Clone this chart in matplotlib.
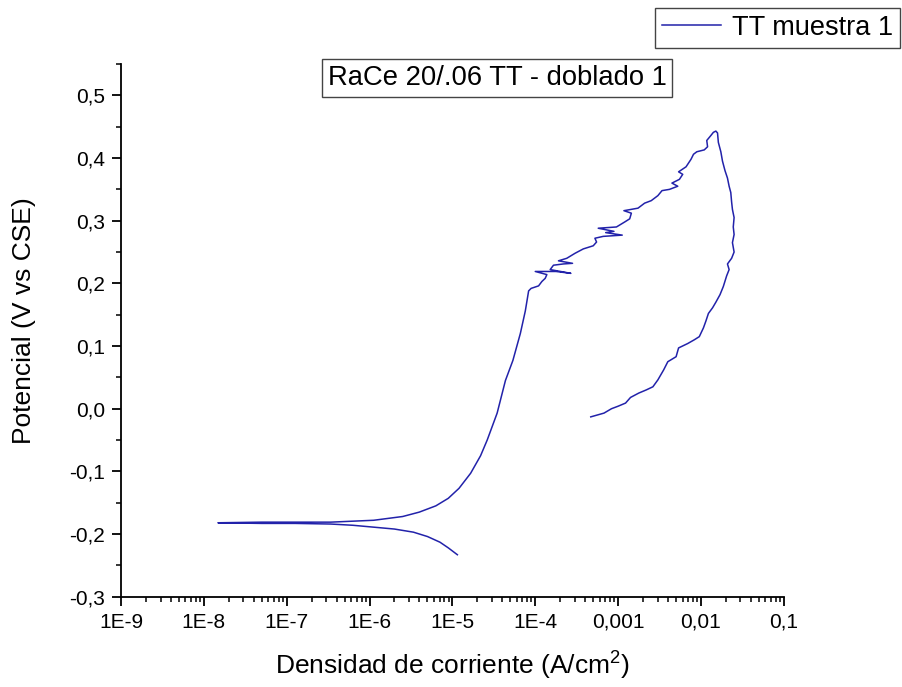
import numpy as np
import matplotlib
matplotlib.use("Agg")
import matplotlib.pyplot as plt
from matplotlib.ticker import FixedLocator, FixedFormatter, MultipleLocator, LogLocator, NullFormatter

plt.rcParams['font.family'] = ['Liberation Sans', 'DejaVu Sans']
plt.rcParams['mathtext.fontset'] = 'custom'
plt.rcParams['mathtext.rm'] = 'Liberation Sans'
plt.rcParams['mathtext.default'] = 'regular'

# rama catodica (log10 de i, potencial V)
catodica_log_i = [-4.94, -5.05, -5.15, -5.30, -5.47, -5.70, -5.95, -6.20, -6.47, -6.90, -7.30, -7.83]
catodica_e = [-0.233, -0.222, -0.213, -0.204, -0.197, -0.192, -0.189, -0.186, -0.184, -0.183, -0.183, -0.182]

# rama anodica hasta el quiebre
anodica_log_i = [-7.30, -6.47, -5.95, -5.60, -5.40, -5.20, -5.05, -4.92, -4.78, -4.66, -4.58, -4.46,
                 -4.36, -4.27, -4.18, -4.12, -4.08]
anodica_e = [-0.181, -0.181, -0.178, -0.172, -0.165, -0.155, -0.143, -0.127, -0.103, -0.075, -0.050, -0.007,
             0.045, 0.077, 0.120, 0.156, 0.188]

# zona con picos, subida hasta el maximo
subida_log_i = [-4.05, -3.96, -3.92, -3.88, -3.86, -4.00, -3.75, -3.57, -3.82, -3.78, -3.66, -3.55,
                -3.72, -3.62, -3.52, -3.42, -3.30, -3.26, -3.28, -3.18, -2.95, -3.15, -3.05, -3.24,
                -3.02, -2.92, -2.86, -2.84, -2.93, -2.76, -2.68, -2.60, -2.52, -2.47, -2.38, -2.28,
                -2.35, -2.26, -2.22, -2.27, -2.18, -2.12, -2.09, -2.05, -1.96, -1.92, -1.93, -1.88,
                -1.85, -1.82, -1.80]
subida_e = [0.192, 0.196, 0.203, 0.208, 0.214, 0.219, 0.219, 0.216, 0.222, 0.229, 0.231, 0.232,
            0.236, 0.240, 0.248, 0.255, 0.260, 0.266, 0.272, 0.275, 0.277, 0.281, 0.283, 0.288,
            0.290, 0.298, 0.303, 0.312, 0.316, 0.320, 0.328, 0.332, 0.340, 0.348, 0.350, 0.355,
            0.360, 0.366, 0.374, 0.378, 0.386, 0.398, 0.406, 0.410, 0.413, 0.418, 0.428, 0.436,
            0.441, 0.443, 0.440]

# barrido de retorno
retorno_log_i = [-1.79, -1.76, -1.74, -1.71, -1.68, -1.66, -1.64, -1.63, -1.62, -1.60, -1.61, -1.60,
                 -1.62, -1.60, -1.63, -1.68, -1.66, -1.69, -1.73, -1.77, -1.82, -1.86, -1.91, -1.94,
                 -1.97, -2.02, -2.08, -2.16, -2.27, -2.30, -2.40, -2.45, -2.52, -2.58, -2.66, -2.75,
                 -2.85, -2.91, -3.00, -3.08, -3.17, -3.25, -3.33]
retorno_e = [0.425, 0.410, 0.395, 0.380, 0.368, 0.355, 0.345, 0.330, 0.318, 0.305, 0.290, 0.278,
             0.265, 0.250, 0.240, 0.231, 0.222, 0.212, 0.195, 0.182, 0.170, 0.161, 0.152, 0.140,
             0.129, 0.115, 0.110, 0.104, 0.097, 0.083, 0.075, 0.062, 0.046, 0.035, 0.030, 0.025,
             0.018, 0.009, 0.004, 0.000, -0.007, -0.010, -0.013]

x_tick_values = [1e-9, 1e-8, 1e-7, 1e-6, 1e-5, 1e-4, 1e-3, 1e-2, 1e-1]
x_tick_labels = ["1E-9", "1E-8", "1E-7", "1E-6", "1E-5", "1E-4", "0,001", "0,01", "0,1"]
y_tick_values = [-0.3, -0.2, -0.1, 0.0, 0.1, 0.2, 0.3, 0.4, 0.5]
y_tick_labels = ["-0,3", "-0,2", "-0,1", "0,0", "0,1", "0,2", "0,3", "0,4", "0,5"]

log_i = catodica_log_i + anodica_log_i + subida_log_i + retorno_log_i
potencial = catodica_e + anodica_e + subida_e + retorno_e
corriente = 10.0 ** np.array(log_i)

fig = plt.figure(figsize=(9.03, 6.87), dpi=100)
ax = fig.add_axes([0.134, 0.1314, 0.734, 0.7754])

ax.plot(corriente, potencial, color='#2222aa', linewidth=1.1, label='TT muestra 1')

ax.set_xscale('log')
ax.set_xlim(1e-9, 0.1)
ax.set_ylim(-0.3, 0.55)

ax.xaxis.set_major_locator(FixedLocator(x_tick_values))
ax.xaxis.set_major_formatter(FixedFormatter(x_tick_labels))
ax.xaxis.set_minor_locator(LogLocator(base=10, subs=np.arange(2, 10), numticks=20))
ax.xaxis.set_minor_formatter(NullFormatter())
ax.yaxis.set_major_locator(FixedLocator(y_tick_values))
ax.yaxis.set_major_formatter(FixedFormatter(y_tick_labels))
ax.yaxis.set_minor_locator(MultipleLocator(0.05))

for side in ['top', 'right']:
    ax.spines[side].set_visible(False)
for side in ['left', 'bottom']:
    ax.spines[side].set_linewidth(1.3)

ax.tick_params(which='major', direction='out', length=6.5, width=1.3, labelsize=15, pad=5)
ax.tick_params(which='minor', direction='out', length=3.5, width=1.1)

ax.set_xlabel('Densidad de corriente (A/cm$^2$)', fontsize=19)
ax.set_ylabel('Potencial (V vs CSE)', fontsize=19)
ax.xaxis.set_label_coords(0.5, -0.1)
ax.yaxis.set_label_coords(-0.128, 0.518)

fig.text(497 / 903, 1 - 78 / 687, 'RaCe 20/.06 TT - doblado 1', fontsize=19.7,
         ha='center', va='center',
         bbox=dict(boxstyle='square,pad=0.22', facecolor='white', edgecolor='#444444', linewidth=1.0))

fig.legend(loc='upper right', bbox_to_anchor=(900 / 903, 1 - 8 / 687), fontsize=19.5,
           frameon=True, fancybox=False, edgecolor='#444444', framealpha=1,
           handlelength=2.2, handletextpad=0.4, borderpad=0.25, borderaxespad=0)
fig.legends[0].get_frame().set_linewidth(1.0)

fig.savefig('out.png', dpi=100)
